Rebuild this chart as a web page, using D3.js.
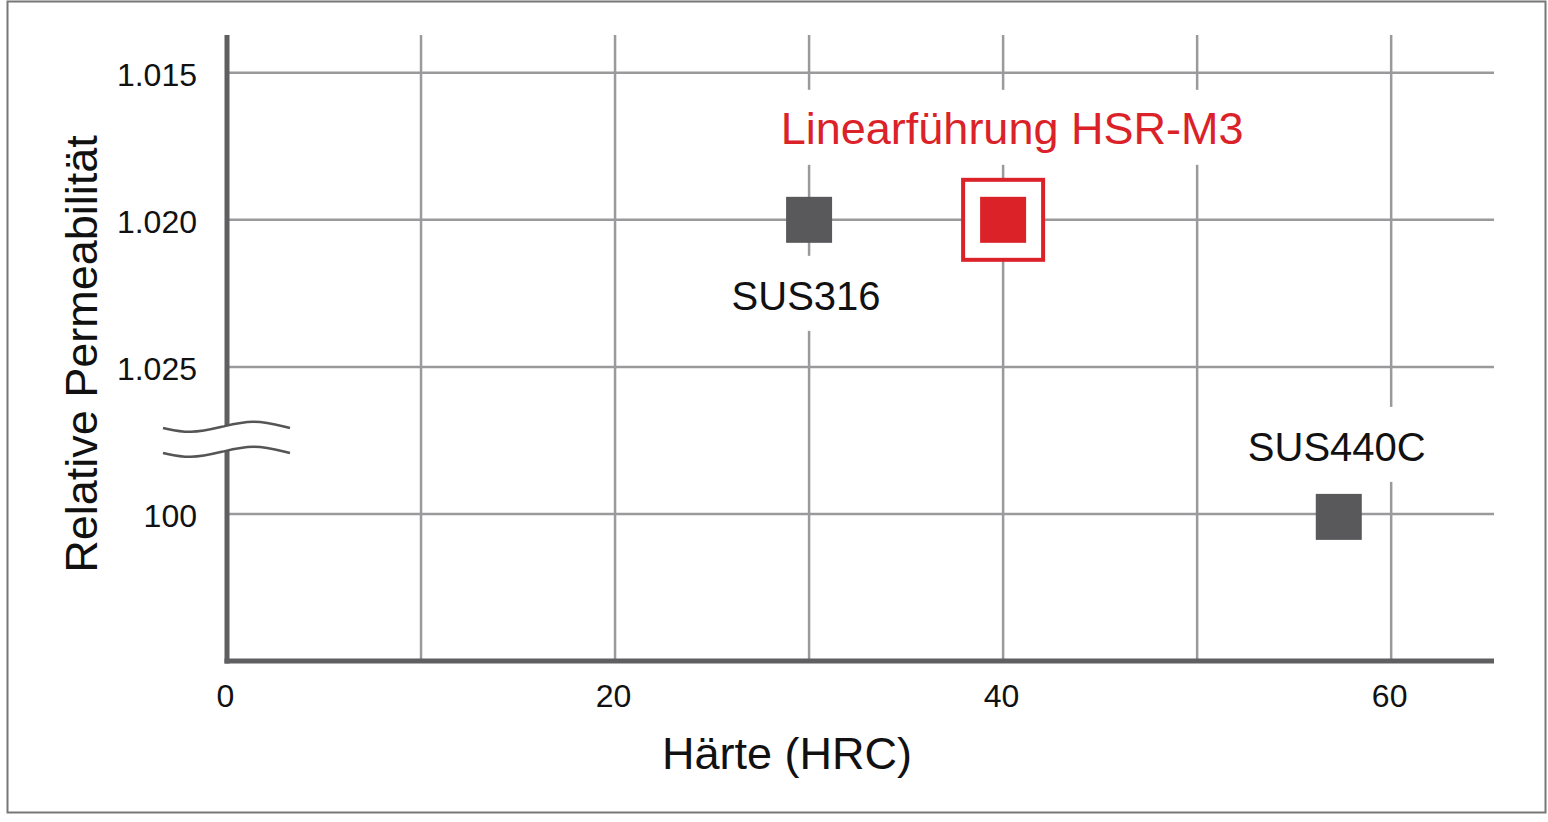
<!DOCTYPE html>
<html>
<head>
<meta charset="utf-8">
<script src="https://cdn.jsdelivr.net/npm/d3@7"></script>
<style>
    html, body { margin: 0; padding: 0; background: #fff; }
    svg { display: block; font-family: "Liberation Sans", Arial, sans-serif; }
</style>
</head>
<body>
<div id="chart"></div>
<script>
// data
const xTicks = [0, 20, 40, 60];
const xGrid = [10, 20, 30, 40, 50, 60];
const yTickLabels = ["1.015", "1.020", "1.025", "100"];
const names = ["SUS316", "Linearführung HSR-M3", "SUS440C"];
const hardness = [30, 40, 57.3];
const permIndex = [1, 1, 3.02];
const highlight = [false, true, false];

const W = 1548, H = 822;
const margin = { left: 227, right: 1494, top: 36, bottom: 661 };

const svg = d3.select("#chart")
    .append("svg")
    .attr("width", W)
    .attr("height", H);

// outer frame
svg.append("rect")
    .attr("x", 7.5).attr("y", 1.5)
    .attr("width", 1538).attr("height", 811)
    .attr("fill", "none")
    .attr("stroke", "#777")
    .attr("stroke-width", 2);

const x = d3.scaleLinear().domain([0, 65.3]).range([margin.left, margin.right]);
// y is an ordinal-like index with a break between 1.025 and 100
const y = d3.scaleLinear().domain([-0.25, 4]).range([margin.top, margin.bottom]);

const grid = svg.append("g").attr("class", "grid")
    .attr("stroke", "#9a9a9c")
    .attr("stroke-width", 2.5);

grid.selectAll(".hgrid")
    .data(yTickLabels)
    .enter()
    .append("line")
    .attr("x1", margin.left).attr("x2", margin.right)
    .attr("y1", (d, i) => y(i)).attr("y2", (d, i) => y(i));

grid.selectAll(".vgrid")
    .data(xGrid)
    .enter()
    .append("line")
    .attr("x1", d => x(d)).attr("x2", d => x(d))
    .attr("y1", margin.top - 1).attr("y2", margin.bottom);

// points
const points = names.map((n, i) => ({
    name: n,
    hx: hardness[i],
    py: permIndex[i],
    hl: highlight[i],
}));

// label placement relative to the marker
function labelPos(d) {
    const cx = x(d.hx), cy = y(d.py);
    if (d.hl) return { x: cx + 9, y: cy - 76, size: 45 };
    if (d.hx > 50) return { x: cx - 2, y: cy - 56, size: 40 };
    return { x: cx - 3, y: cy + 90, size: 40 };
}

const labels = svg.append("g").attr("class", "labels");
points.forEach(d => {
    const p = labelPos(d);
    const t = labels.append("text")
        .attr("x", p.x).attr("y", p.y)
        .attr("text-anchor", "middle")
        .style("font-size", p.size + "px")
        .attr("fill", d.hl ? "#db2229" : "#111")
        .text(d.name);
    const bb = t.node().getBBox();
    labels.insert("rect", "text")
        .attr("x", bb.x - 10)
        .attr("y", p.y - 54)
        .attr("width", bb.width + 20)
        .attr("height", 75)
        .attr("fill", "#fff");
});

// highlight frame
svg.append("g")
    .selectAll("rect")
    .data(points.filter(d => d.hl))
    .enter()
    .append("rect")
    .attr("x", d => x(d.hx) - 40)
    .attr("y", d => y(d.py) - 40)
    .attr("width", 80).attr("height", 80)
    .attr("fill", "#fff")
    .attr("stroke", "#db2229")
    .attr("stroke-width", 4);

// markers
svg.append("g")
    .selectAll("rect")
    .data(points)
    .enter()
    .append("rect")
    .attr("x", d => x(d.hx) - 23)
    .attr("y", d => y(d.py) - 23)
    .attr("width", 46).attr("height", 46)
    .attr("fill", d => d.hl ? "#db2229" : "#59595b");

// axis lines
svg.append("line")
    .attr("x1", margin.left).attr("x2", margin.left)
    .attr("y1", margin.top - 1).attr("y2", margin.bottom + 2.5)
    .attr("stroke", "#5f5f61").attr("stroke-width", 5);
svg.append("line")
    .attr("x1", margin.left - 2.5).attr("x2", margin.right)
    .attr("y1", margin.bottom).attr("y2", margin.bottom)
    .attr("stroke", "#5f5f61").attr("stroke-width", 5);

// axis break
const wave = d3.line().curve(d3.curveBasis);
const waveTop = [[163, 428], [190, 434], [222, 427], [253, 419], [290, 428]];
const gap = 25;
const waveBot = waveTop.map(p => [p[0], p[1] + gap]);
svg.append("path")
    .attr("d", wave(waveTop) + "L" + waveBot.slice().reverse().map(p => p.join(",")).join("L") + "Z")
    .attr("fill", "#fff");
[waveTop, waveBot].forEach(w => {
    svg.append("path")
        .attr("d", wave(w))
        .attr("fill", "none")
        .attr("stroke", "#555")
        .attr("stroke-width", 2.5);
});

// tick labels
const xAxis = d3.axisBottom(x).tickValues(xTicks).tickSize(0).tickPadding(0);
const gx = svg.append("g")
    .attr("transform", "translate(-2," + 707 + ")")
    .call(xAxis);
gx.select(".domain").remove();
gx.selectAll("text")
    .attr("dy", 0)
    .attr("y", 0)
    .style("font-size", "32px")
    .style("font-family", "'Liberation Sans', Arial, sans-serif")
    .attr("fill", "#111");

const yAxis = d3.axisLeft(y)
    .tickValues(d3.range(yTickLabels.length))
    .tickFormat(i => yTickLabels[i])
    .tickSize(0).tickPadding(0);
const gy = svg.append("g")
    .attr("transform", "translate(197,0)")
    .call(yAxis);
gy.select(".domain").remove();
gy.selectAll("text")
    .attr("dy", "13px")
    .attr("x", 0)
    .style("font-size", "32px")
    .style("font-family", "'Liberation Sans', Arial, sans-serif")
    .attr("fill", "#111");

// axis titles
svg.append("text")
    .attr("x", 787).attr("y", 769)
    .attr("text-anchor", "middle")
    .style("font-size", "45px")
    .attr("fill", "#111")
    .text("Härte (HRC)");

svg.append("text")
    .attr("transform", "translate(97,354) rotate(-90)")
    .attr("text-anchor", "middle")
    .style("font-size", "45px")
    .attr("fill", "#111")
    .text("Relative Permeabilität");
</script>
</body>
</html>
